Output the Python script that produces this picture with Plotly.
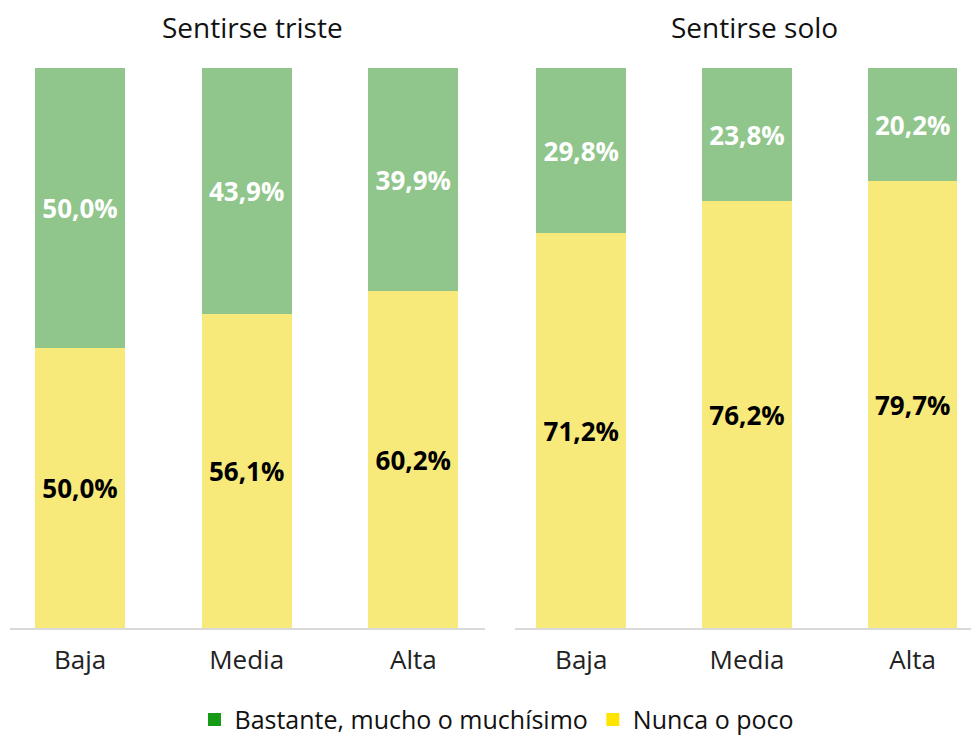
import plotly.graph_objects as go

categories = ["Baja", "Media", "Alta"]
triste_bastante = [50.0, 43.9, 39.9]
triste_nunca = [50.0, 56.1, 60.2]
solo_bastante = [29.8, 23.8, 20.2]
solo_nunca = [71.2, 76.2, 79.7]
panel_titles = ["Sentirse triste", "Sentirse solo"]
series_names = ["Bastante, mucho o muchísimo", "Nunca o poco"]

GREEN_BAR = "#90C68B"
YELLOW_BAR = "#F7EA7A"
GREEN_LEG = "#169B16"
YELLOW_LEG = "#FFE400"
FONT = "Open Sans"

def fmt(v):
    return f"{v:.1f}".replace(".", ",") + "%"

fig = go.Figure()
panels = [(triste_nunca, triste_bastante, "x", "y"), (solo_nunca, solo_bastante, "x2", "y2")]
for nunca, bast, xa, ya in panels:
    tot = [a + b for a, b in zip(nunca, bast)]
    fig.add_trace(go.Bar(
        x=categories, y=[100 * a / t for a, t in zip(nunca, tot)], xaxis=xa, yaxis=ya,
        marker=dict(color=YELLOW_BAR, line=dict(width=0)), width=0.54,
        text=[fmt(v) for v in nunca], textposition="inside", insidetextanchor="middle",
        textfont=dict(family=FONT, size=26, color="black", weight="bold"),
        constraintext="none", showlegend=False, hoverinfo="skip"))
    fig.add_trace(go.Bar(
        x=categories, y=[100 * b / t for b, t in zip(bast, tot)], xaxis=xa, yaxis=ya,
        marker=dict(color=GREEN_BAR, line=dict(width=0)), width=0.54,
        text=[fmt(v) for v in bast], textposition="inside", insidetextanchor="middle",
        textfont=dict(family=FONT, size=26, color="white", weight="bold"),
        constraintext="none", showlegend=False, hoverinfo="skip"))

for name, col in zip(series_names, [GREEN_LEG, YELLOW_LEG]):
    fig.add_trace(go.Scatter(x=[None], y=[None], mode="markers", name=name,
                             marker=dict(symbol="square", size=13, color=col)))

axis_common = dict(showgrid=False, zeroline=False, showline=True, linecolor="#D9D9D9",
                   linewidth=1.5, ticks="", ticklabelstandoff=8,
                   tickfont=dict(family=FONT, size=26, color="#222"))
fig.update_layout(
    width=971, height=727, barmode="stack",
    margin=dict(l=0, r=0, t=60, b=107, autoexpand=False),
    paper_bgcolor="white", plot_bgcolor="white",
    xaxis=dict(domain=[0.0021, 0.4912], range=[-0.42, 2.43], **axis_common),
    xaxis2=dict(domain=[0.5221, 1.0], range=[-0.40, 2.40], **axis_common),
    yaxis=dict(range=[0, 100], visible=False),
    yaxis2=dict(range=[0, 100], visible=False, anchor="x2"),
    showlegend=True,
    legend=dict(orientation="h", x=0.5036, xanchor="center", y=-0.164, yanchor="middle",
                font=dict(family=FONT, size=25, color="#111"), traceorder="normal"),
)
fig.add_annotation(text=panel_titles[0], x=0.2523, y=1.073, xref="paper", yref="paper",
                   showarrow=False, font=dict(family=FONT, size=28, color="#111"),
                   xanchor="center", yanchor="middle")
fig.add_annotation(text=panel_titles[1], x=0.7683, y=1.073, xref="paper", yref="paper",
                   showarrow=False, font=dict(family=FONT, size=28, color="#111"),
                   xanchor="center", yanchor="middle")

fig.write_html("out.html")
